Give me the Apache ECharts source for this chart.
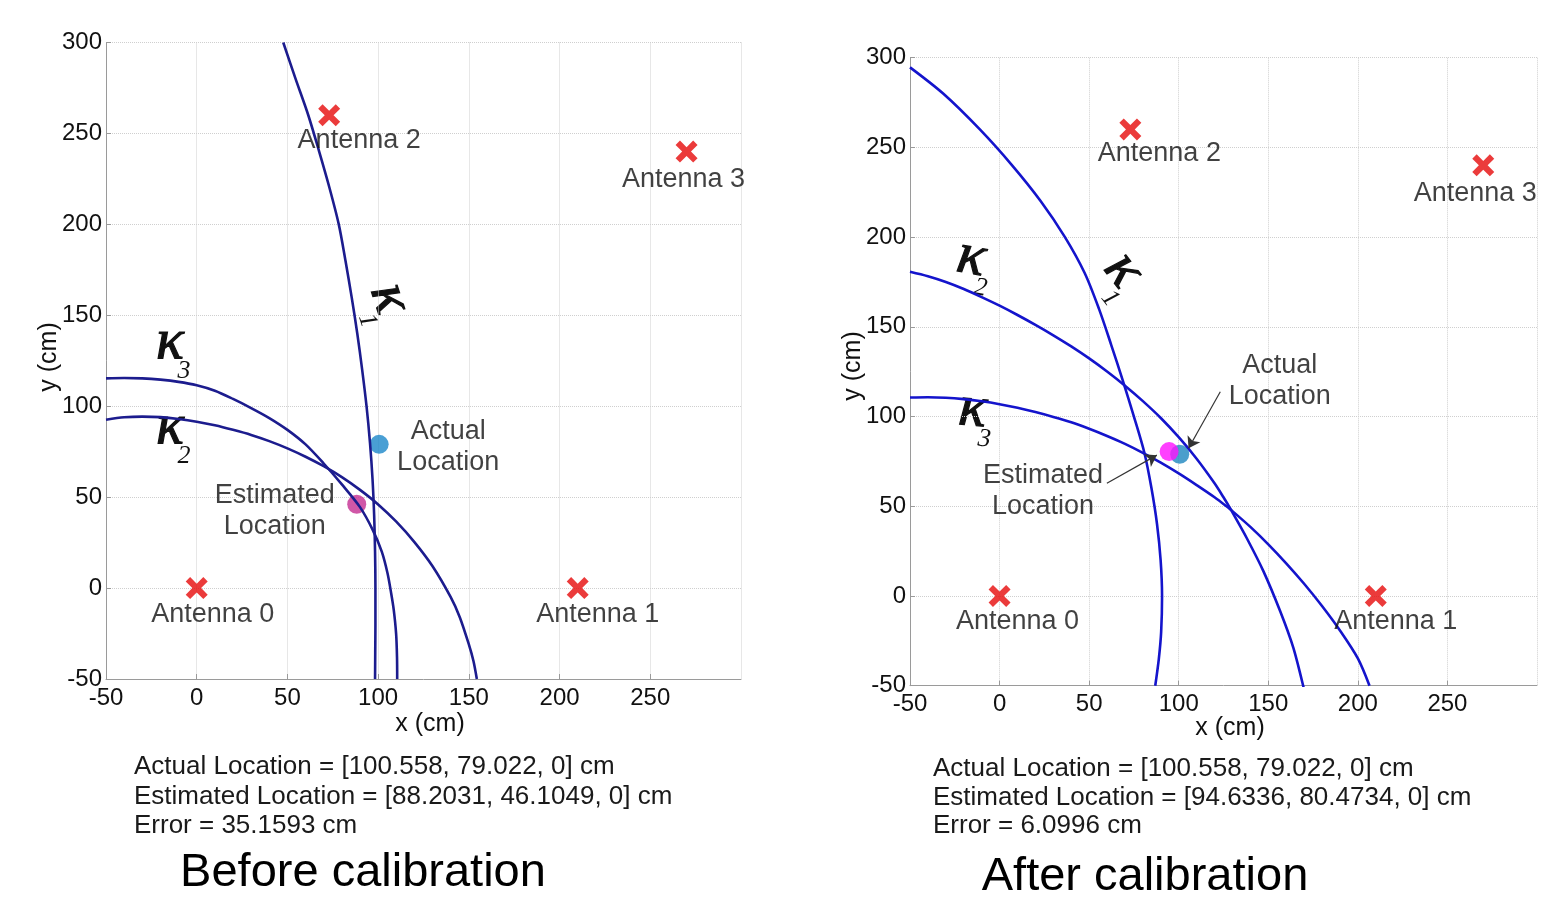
<!DOCTYPE html>
<html>
<head>
<meta charset="utf-8">
<script src="https://cdn.jsdelivr.net/npm/echarts@6/dist/echarts.min.js"></script>
<style>
html,body{margin:0;padding:0;background:#fff;overflow:hidden;}
#chart{width:1545px;height:900px;}
</style>
</head>
<body>
<div id="chart"></div>
<script>
// ---------- data ----------
const tickValues = [-50, 0, 50, 100, 150, 200, 250, 300];
const antennaNames = ['Antenna 0', 'Antenna 1', 'Antenna 2', 'Antenna 3'];
const antennaX = [0, 210, 73, 270];
const antennaY = [0, 0, 260, 240];
const actualLoc = [100.558, 79.022];
const estBefore = [88.2031, 46.1049];
const estAfter = [94.6336, 80.4734];

const beforeK1 = [[47.7,300],[54.5,280],[61.5,260],[67.5,240],[73.2,220],[78.3,200],[82,180],[85.4,160],[88.5,140],[91.2,120],[93.6,100],[95.5,80],[96.9,60],[97.8,40],[98.3,20],[98.5,0],[98.5,-20],[98.4,-35],[98.3,-50]];
const beforeK3 = [[-50,115.3],[-40,115.5],[-30,115.3],[-20,114.6],[-10,113.4],[0,111.5],[10,108.5],[20,104],[30,99],[40,93.5],[50,87],[60,79],[70,68.5],[80,57],[90,44.5],[97,32],[102,20],[105.2,8],[107.2,-3],[108.6,-12],[109.9,-25],[110.4,-38],[110.5,-50]];
const beforeK2 = [[-50,92.6],[-40,93.9],[-30,94.3],[-20,94.0],[-10,93.0],[0,91.5],[10,89.5],[20,87.0],[30,84.2],[40,80.8],[50,76.8],[60,72.2],[70,67.0],[80,61.0],[90,54.0],[100,46.0],[110,36.5],[120,25.3],[130,12],[140,-5],[145,-16],[150,-31],[152.5,-40],[154.4,-50]];

const afterK1 = [[-50,294.6],[-31.5,280],[-11,260],[7,240],[23,220],[36.5,200],[47.5,180],[55.5,160],[62.3,140],[68.8,120],[75,100],[80.8,80],[84.8,60],[87.9,40],[89.9,20],[90.7,0],[90.2,-20],[88.9,-35],[86.9,-50]];
const afterK2 = [[-50,180.7],[-40,178.2],[-30,175.0],[-20,171.1],[-10,166.6],[0,161.8],[10,156.6],[20,151.1],[30,145.3],[40,139.1],[50,132.4],[60,125.1],[70,117.2],[80,108.6],[90,99.2],[100,88.5],[110,76.5],[120,62.8],[125,55],[128.5,49.2],[130,46.6],[137.8,32.6],[147.2,14],[156.6,-8.4],[164,-28.9],[169.7,-51]];
const afterK3 = [[-50,110.6],[-40,110.8],[-30,110.5],[-20,109.7],[-10,108.5],[0,106.9],[10,104.9],[20,102.5],[30,99.8],[40,96.8],[50,93.2],[60,89.2],[70,84.8],[80,79.8],[90,74.3],[100,68.3],[110,61.8],[120,55],[128.5,48.5],[130,47.3],[140,38.5],[150,28.8],[160,18.2],[170,6.8],[180,-5.6],[190,-19.2],[200,-34.8],[206.5,-50]];

// ---------- styles ----------
const FONT = '"Liberation Sans", Arial, sans-serif';
const SERIF = '"Liberation Serif", "Times New Roman", serif';
const crossPath = 'path://M0,4 L4,0 L10,6 L16,0 L20,4 L14,10 L20,16 L16,20 L10,14 L4,20 L0,16 L6,10 Z';

const leftAntOffsets = [[16,26],[20,26],[30,25],[-3,28]];
const rightAntOffsets = [[18,26],[20,26],[29,24],[-8,28]];

function axisCfg(gi, isX) {
  return {
    type: 'value', gridIndex: gi, min: -50, max: 300, interval: 50,
    axisLine: { show: true, onZero: false, lineStyle: { color: '#9a9a9a', width: 1 } },
    axisTick: { show: true, inside: true, length: 5, lineStyle: { color: '#9a9a9a' } },
    axisLabel: {
      show: true, fontFamily: FONT, fontSize: 24, color: '#111',
      margin: isX ? 7 : 4,
      showMaxLabel: !isX,
      formatter: v => tickValues.includes(v) ? String(v) : ''
    },
    splitLine: { show: true, lineStyle: { color: '#cfcfcf', type: 'dotted', width: 1 } }
  };
}

function antennaSeries(gi, offsets) {
  return {
    type: 'scatter', xAxisIndex: gi, yAxisIndex: gi, z: 4,
    symbol: crossPath, symbolSize: 22,
    itemStyle: { color: '#e60a0a' },
    data: antennaX.map((x, i) => ({
      value: [x, antennaY[i]], name: antennaNames[i],
      label: { show: true, position: 'inside', offset: offsets[i], formatter: antennaNames[i],
               fontFamily: FONT, fontSize: 27, color: '#111' }
    })),
    silent: true
  };
}

function curve(gi, pts, color) {
  return {
    type: 'line', xAxisIndex: gi, yAxisIndex: gi, z: 3,
    data: pts, showSymbol: false, smooth: 0.3,
    lineStyle: { color: color, width: 2.6 }, silent: true
  };
}

function dot(gi, pt, color, size, label, offset, z) {
  return {
    type: 'scatter', xAxisIndex: gi, yAxisIndex: gi, z: z,
    symbol: 'circle', symbolSize: size,
    itemStyle: { color: color },
    data: [{ value: pt, label: { show: true, position: 'inside', offset: offset, formatter: label,
             fontFamily: FONT, fontSize: 27, color: '#111', lineHeight: 31, align: 'center' } }],
    silent: true
  };
}

function kappa(x, y, deg, sub) {
  return {
    type: 'group', x: x, y: y, rotation: -deg * Math.PI / 180,
    children: [
      { type: 'text', x: 0, y: -8, style: { text: 'κ', font: 'italic 58px ' + SERIF, fill: '#111', stroke: '#111', lineWidth: 1.2, align: 'center', verticalAlign: 'middle' } },
      { type: 'text', x: 14, y: 20, style: { text: sub, font: 'italic 26px ' + SERIF, fill: '#111', align: 'center', verticalAlign: 'middle' } }
    ]
  };
}

function txt(x, y, s, size) {
  return { type: 'text', x: x, y: y,
    style: { text: s, font: size + 'px ' + FONT, fill: '#1a1a1a', align: 'left', verticalAlign: 'middle' } };
}
function ctxt(x, y, s, size, rot) {
  return { type: 'text', x: x, y: y, rotation: rot || 0,
    style: { text: s, font: size + 'px ' + FONT, fill: '#111', align: 'center', verticalAlign: 'middle' } };
}

const LEFTC = '#1c1c8e';
const RIGHTC = '#1414cc';

const option = {
  animation: false,
  backgroundColor: '#fff',
  grid: [
    { left: 106, top: 42.5, width: 635, height: 636.5, outerBoundsMode: 'none', containLabel: false },
    { left: 910, top: 57.7, width: 627, height: 628, outerBoundsMode: 'none', containLabel: false }
  ],
  xAxis: [axisCfg(0, true), axisCfg(1, true)],
  yAxis: [axisCfg(0, false), axisCfg(1, false)],
  series: [
    dot(0, actualLoc, '#1b87c9', 19, 'Actual\nLocation', [69, 3], 2),
    dot(0, estBefore, '#c42d91', 19, 'Estimated\nLocation', [-82, 7], 2),
    curve(0, beforeK1, LEFTC),
    curve(0, beforeK3, LEFTC),
    curve(0, beforeK2, LEFTC),
    antennaSeries(0, leftAntOffsets),

    {
      type: 'scatter', xAxisIndex: 1, yAxisIndex: 1, z: 2,
      symbol: 'circle', symbolSize: 19, itemStyle: { color: '#1d86bf' },
      data: [{ value: actualLoc, label: { show: true, position: 'inside', offset: [100, -73], formatter: 'Actual\nLocation',
               fontFamily: FONT, fontSize: 27, color: '#111', lineHeight: 31, align: 'center' } }],
      silent: true,
      markLine: {
        silent: true, animation: false, symbol: ['none', 'arrow'], symbolSize: 11,
        label: { show: false },
        lineStyle: { color: '#333', width: 1.2, type: 'solid' },
        data: [
          [{ coord: [123.2, 113.8] }, { coord: [105.5, 82.3] }],
          [{ coord: [59.9, 62.8] }, { coord: [87.8, 78.5] }]
        ]
      }
    },
    dot(1, estAfter, '#ff10ff', 19, 'Estimated\nLocation', [-126, 39], 2.5),
    curve(1, afterK1, RIGHTC),
    curve(1, afterK2, RIGHTC),
    curve(1, afterK3, RIGHTC),
    antennaSeries(1, rightAntOffsets)
  ],
  graphic: [
    kappa(170, 351, 0, '3'),
    kappa(170, 436, 0, '2'),
    kappa(382, 301, 72, '1'),
    kappa(970, 266, 10, '2'),
    kappa(1117, 275, 52, '1'),
    kappa(972, 418, 5, '3'),

    ctxt(430, 724, 'x (cm)', 25),
    ctxt(1230, 728, 'x (cm)', 25),
    ctxt(49, 357, 'y (cm)', 25, Math.PI / 2),
    ctxt(853, 366, 'y (cm)', 25, Math.PI / 2),

    txt(134, 767, 'Actual Location = [100.558, 79.022, 0] cm', 26),
    txt(134, 797, 'Estimated Location = [88.2031, 46.1049, 0] cm', 26),
    txt(134, 826, 'Error = 35.1593 cm', 26),
    txt(933, 769, 'Actual Location = [100.558, 79.022, 0] cm', 26),
    txt(933, 798, 'Estimated Location = [94.6336, 80.4734, 0] cm', 26),
    txt(933, 826, 'Error = 6.0996 cm', 26),

    { type: 'text', x: 363, y: 873, style: { text: 'Before calibration', font: '47px ' + FONT, fill: '#000', align: 'center', verticalAlign: 'middle' } },
    { type: 'text', x: 1145, y: 877, style: { text: 'After calibration', font: '47px ' + FONT, fill: '#000', align: 'center', verticalAlign: 'middle' } }
  ]
};

const chart = echarts.init(document.getElementById('chart'), null, { renderer: 'canvas' });
chart.setOption(option);
</script>
</body>
</html>
